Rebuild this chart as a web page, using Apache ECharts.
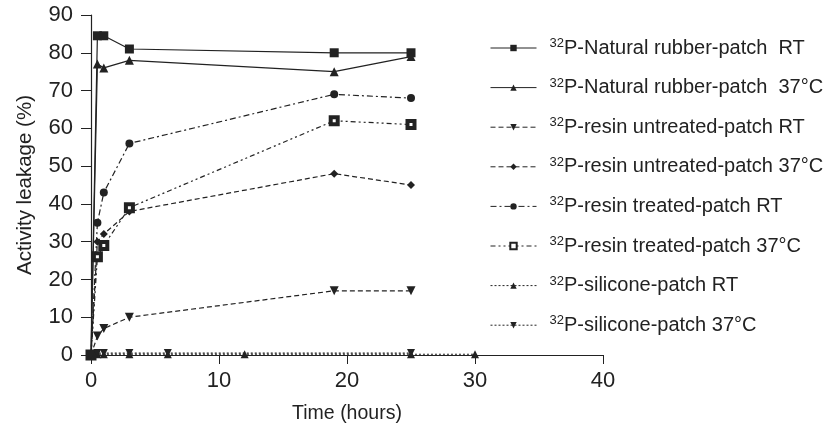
<!DOCTYPE html>
<html>
<head>
<meta charset="utf-8">
<script src="https://cdn.jsdelivr.net/npm/echarts@6/dist/echarts.min.js"></script>
<style>
  html, body { margin: 0; padding: 0; background: #fff; }
  #chart { width: 829px; height: 430px; }
</style>
</head>
<body>
<div id="chart"></div>
<script>
// series names (superscript handled in legend formatter)
var names = [
  "P-Natural rubber-patch  RT",
  "P-Natural rubber-patch  37°C",
  "P-resin untreated-patch RT",
  "P-resin untreated-patch 37°C",
  "P-resin treated-patch RT",
  "P-resin treated-patch 37°C",
  "P-silicone-patch RT",
  "P-silicone-patch 37°C"
];

// time points (hours)
var tMain = [0, 0.5, 1, 3, 19, 25];
var tSiliconeRT = [0, 0.5, 1, 3, 6, 12, 25, 30];
var tSilicone37 = [0, 0.5, 1, 3, 6, 25];

// activity leakage (%)
var rubberRT = [0, 84.5, 84.5, 81, 80, 80];
var rubber37 = [0, 77, 76, 78, 75, 79];
var untreatedRT = [0, 5, 7, 10, 17, 17];
var untreated37 = [0, 30, 32, 38, 48, 45];
var treatedRT = [0, 35, 43, 56, 69, 68];
var treated37 = [0, 26, 29, 39, 62, 61];
var siliconeRT = [0, 0.2, 0.2, 0.2, 0.2, 0.2, 0.2, 0.2];
var silicone37 = [0, 0.5, 0.5, 0.5, 0.5, 0.5];

function pairs(xs, ys) {
  return xs.map(function (x, i) { return [x, ys[i]]; });
}

var chart = echarts.init(document.getElementById("chart"));

function mk(name, xs, ys, symbol, size, dash, extra) {
  var s = {
    name: name,
    type: "line",
    data: pairs(xs, ys),
    symbol: symbol,
    symbolSize: size,
    clip: false,
    lineStyle: { color: "#222", width: 1.2, type: dash },
    itemStyle: { color: "#222" }
  };
  if (extra) { s.itemStyle = extra; }
  return s;
}

var upTri = "triangle";
var downTri = "path://M0,0 L10,0 L5,9 Z";

chart.setOption({
  animation: false,
  textStyle: { fontFamily: "Liberation Sans, Arial, sans-serif" },
  grid: { left: 91, right: 226, top: 15, bottom: 75, containLabel: false },
  legend: {
    orient: "vertical",
    left: 485,
    top: 32,
    itemWidth: 46,
    itemHeight: 8,
    itemGap: 18.6,
    data: names,
    lineStyle: { width: 1 },
    formatter: function (n) { return "{sup|32}{main|" + n + "}"; },
    textStyle: {
      color: "#222",
      padding: [0, 0, 0, 8],
      rich: {
        sup: { fontSize: 13, verticalAlign: "top", lineHeight: 22, color: "#222" },
        main: { fontSize: 20, lineHeight: 22, color: "#222" }
      }
    }
  },
  xAxis: {
    type: "value",
    min: 0,
    max: 40,
    interval: 10,
    name: "Time (hours)",
    nameLocation: "middle",
    nameGap: 49,
    nameTextStyle: { fontSize: 19.5, color: "#222" },
    axisLine: { lineStyle: { color: "#222", width: 1.2 } },
    axisTick: { inside: false, length: 9, lineStyle: { color: "#222" } },
    axisLabel: { fontSize: 22, color: "#222", margin: 15 },
    splitLine: { show: false }
  },
  yAxis: {
    type: "value",
    min: 0,
    max: 90,
    interval: 10,
    name: "Activity leakage (%)",
    nameLocation: "middle",
    nameGap: 55,
    nameTextStyle: { fontSize: 20.5, color: "#222" },
    axisLine: { show: true, lineStyle: { color: "#222", width: 1.2 } },
    axisTick: { show: true, inside: false, length: 10, lineStyle: { color: "#222" } },
    axisLabel: { fontSize: 22, color: "#222", margin: 18 },
    splitLine: { show: false }
  },
  series: [
    mk(names[0], tMain, rubberRT, "rect", 9, "solid"),
    mk(names[1], tMain, rubber37, upTri, 9, "solid"),
    mk(names[2], tMain, untreatedRT, downTri, 9, [5, 3]),
    mk(names[3], tMain, untreated37, "diamond", 8, [5, 3]),
    mk(names[4], tMain, treatedRT, "circle", 8, [6, 3, 2, 3]),
    mk(names[5], tMain, treated37, "rect", 7, [5, 3, 2, 3, 2, 3],
       { color: "#fff", borderColor: "#222", borderWidth: 4 }),
    mk(names[6], tSiliconeRT, siliconeRT, upTri, 8, [2, 2]),
    mk(names[7], tSilicone37, silicone37, downTri, 8, [2, 2])
  ]
});
</script>
</body>
</html>
